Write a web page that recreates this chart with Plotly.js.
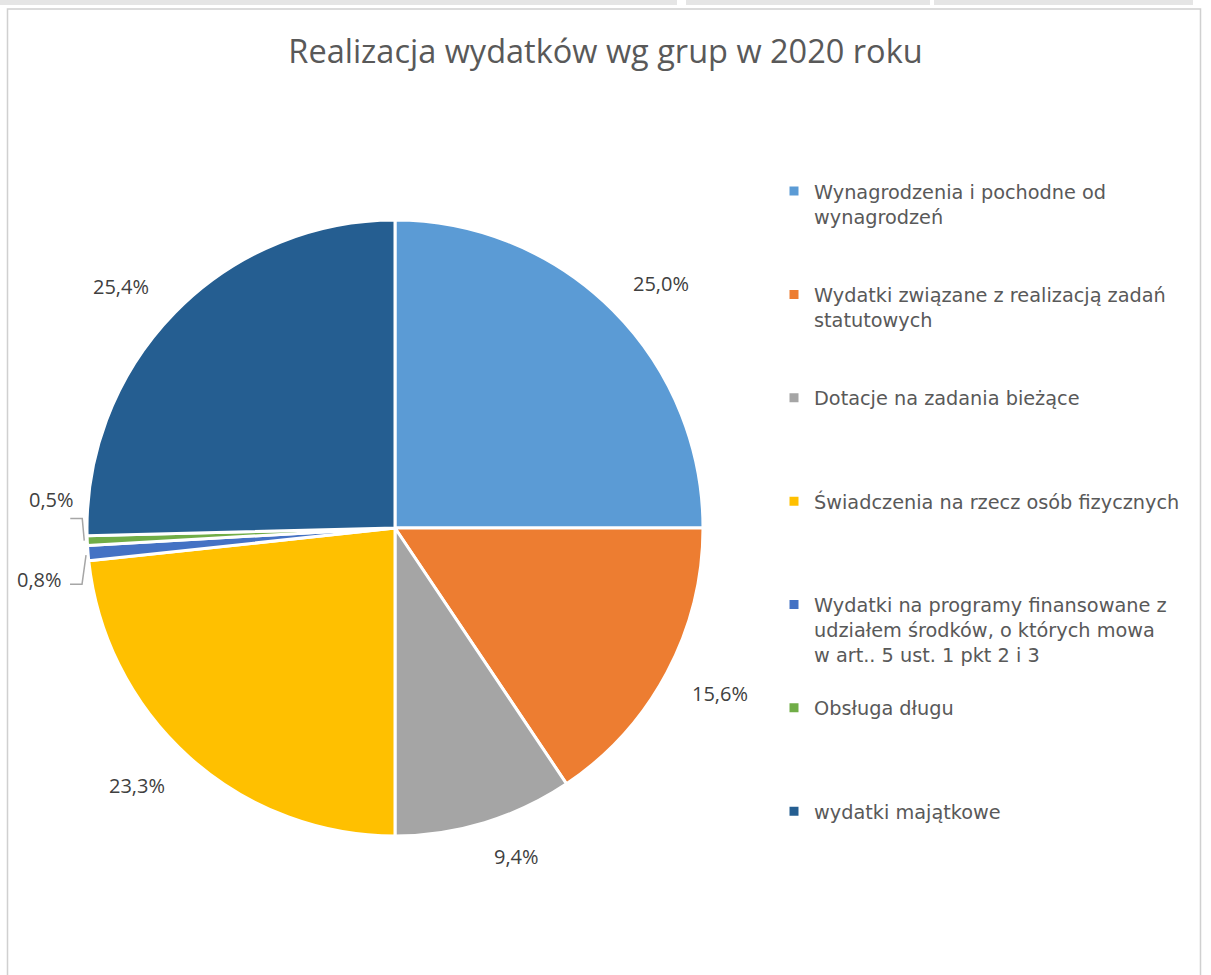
<!DOCTYPE html>
<html><head><meta charset="utf-8">
<script src="https://cdn.plot.ly/plotly-3.0.1.min.js"></script>
<style>html,body{margin:0;padding:0;background:#fff;}#chart{width:1211px;height:975px;}</style>
</head><body><div id="chart"></div>
<script>
const categories = [
  "Wynagrodzenia i pochodne od<br>wynagrodzeń",
  "Wydatki związane z realizacją zadań<br>statutowych",
  "Dotacje na zadania bieżące",
  "Świadczenia na rzecz osób fizycznych",
  "Wydatki na programy finansowane z<br>udziałem środków, o których mowa<br>w art.. 5 ust. 1 pkt 2 i 3",
  "Obsługa długu",
  "wydatki majątkowe"
];
const shares = [25.0, 15.6, 9.4, 23.3, 0.8, 0.5, 25.4];
const colors = ["#5B9BD5", "#ED7D31", "#A5A5A5", "#FFC000", "#4472C4", "#70AD47", "#255E91"];
const titleText = "Realizacja wydatków wg grup w 2020 roku";

const W = 1211, H = 975;
const cx = 395, cy = 528, R = 308;
const px = x => x / W, py = y => 1 - y / H;

// pad legend entries to 4 lines so spacing is even
const legendLabels = categories.map(c => {
  const n = c.split("<br>").length;
  let s = c;
  for (let i = n; i < 4; i++) s += "<br>\u00a0";
  return s;
});

const total = shares.reduce((a, b) => a + b, 0);
const annotations = [];
const shapes = [];
const labelFont = {family: "Open Sans, sans-serif", size: 20, color: "#404040"};
let cum = 0;
shares.forEach((v, i) => {
  const mid = (cum + v / 2) / total * 2 * Math.PI;
  cum += v;
  const txt = v.toFixed(1).replace(".", ",") + "%";
  const s = Math.sin(mid), c = Math.cos(mid);
  const ex = cx + R * s, ey = cy - R * c;
  if (v < 0.65) {
    shapes.push({type: "path", xref: "paper", yref: "paper",
      path: `M${px(ex-3)},${py(ey)} L${px(ex-5)},${py(ey-22)} L${px(ex-17)},${py(ey-22)}`,
      line: {color: "#A6A6A6", width: 1.5}});
    annotations.push({x: px(ex - 36), y: py(ey - 41), xref: "paper", yref: "paper",
      text: txt, showarrow: false, xanchor: "center", yanchor: "middle", font: labelFont});
  } else if (v < 2) {
    shapes.push({type: "path", xref: "paper", yref: "paper",
      path: `M${px(ex-2)},${py(ey+2)} L${px(ex-6)},${py(ey+31)} L${px(ex-18)},${py(ey+31)}`,
      line: {color: "#A6A6A6", width: 1.5}});
    annotations.push({x: px(ex - 49), y: py(ey + 26), xref: "paper", yref: "paper",
      text: txt, showarrow: false, xanchor: "center", yanchor: "middle", font: labelFont});
  } else {
    const ax = cx + R * 1.085 * s, ay = cy - R * 1.085 * c;
    annotations.push({x: px(ax), y: py(ay), xref: "paper", yref: "paper",
      text: txt, showarrow: false,
      xanchor: s >= 0 ? "left" : "right", yanchor: c >= 0 ? "bottom" : "top",
      xshift: s >= 0 ? 0 : -5, yshift: c >= 0 ? -7 : 7,
      font: labelFont});
  }
});

// chart frame
shapes.push({type: "rect", xref: "paper", yref: "paper",
  x0: px(7.5), x1: px(1200.5), y0: -0.02, y1: py(9),
  line: {color: "#D0D0D0", width: 1.5}, fillcolor: "rgba(0,0,0,0)"});
// top strip (window chrome)
[[0, 677], [686, 930], [934, 1193]].forEach(([a, b]) => {
  shapes.push({type: "rect", xref: "paper", yref: "paper",
    x0: px(a), x1: px(b), y0: py(5), y1: 1,
    line: {width: 0}, fillcolor: "#E5E5E5", layer: "below"});
});

const data = [{
  type: "pie",
  labels: legendLabels,
  values: shares,
  sort: false,
  direction: "clockwise",
  rotation: 0,
  textinfo: "none",
  hoverinfo: "label+percent",
  marker: {colors: colors, line: {color: "#FFFFFF", width: 3}},
  domain: {x: [px(cx - R), px(cx + R)], y: [py(cy + R), py(cy - R)]}
}];

const layout = {
  width: W, height: H,
  margin: {l: 0, r: 0, t: 0, b: 0},
  paper_bgcolor: "#FFFFFF",
  separators: ", ",
  title: {text: titleText, x: 0.5, xanchor: "center", y: py(52), yanchor: "middle",
    font: {family: "Open Sans, sans-serif", size: 32.5, color: "#595959"}},
  showlegend: true,
  legend: {x: px(774), xanchor: "left", y: py(172), yanchor: "top",
    valign: "top", traceorder: "normal",
    font: {family: "DejaVu Sans, sans-serif", size: 19.3, color: "#595959"},
    bgcolor: "rgba(0,0,0,0)"},
  annotations: annotations,
  shapes: shapes
};

Plotly.newPlot("chart", data, layout, {displayModeBar: false, staticPlot: true});
</script>
</body></html>
